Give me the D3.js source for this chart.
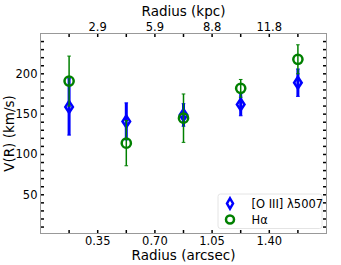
<!DOCTYPE html>
<html><head><meta charset="utf-8">
<script src="https://cdn.jsdelivr.net/npm/d3@7"></script>
<style>body{margin:0;background:#fff;} text{font-family:"DejaVu Sans",sans-serif;}</style>
</head><body><svg id="c" width="341" height="265"></svg>
<script>
const radiusArcsec = [0.175, 0.525, 0.875, 1.225, 1.575];
const oiiiV = [159, 141, 149, 162, 189];
const oiiiErr = [35, 23, 14, 14, 17];
const haV = [191, 114, 145, 182, 218];
const haErr = [31, 28, 30, 11, 18];
const bottomTicks = [0.175, 0.35, 0.525, 0.70, 0.875, 1.05, 1.225, 1.40, 1.575];
const bottomLabels = {"0.35":"0.35","0.7":"0.70","1.05":"1.05","1.4":"1.40"};
const topLabels = {"0.35":"2.9","0.7":"5.9","1.05":"8.8","1.4":"11.8"};
const yMajor = [50, 100, 150, 200];
const yMinor = d3.range(10, 250, 10);

const svg = d3.select("#c");
const L = 40.5, R = 326.5, T = 33.5, B = 233.5;
const x = d3.scaleLinear().domain([0, 1.75]).range([L, R]);
const y = d3.scaleLinear().domain([2, 250]).range([B, T]);
const fmtKey = v => String(+v.toFixed(3));

// ticks
const tickLen = 3.5;
const tk = svg.append("g").attr("stroke", "#000").attr("stroke-width", 1.5);
bottomTicks.forEach(v => {
  tk.append("line").attr("x1", x(v)).attr("x2", x(v)).attr("y1", B).attr("y2", B - tickLen);
  tk.append("line").attr("x1", x(v)).attr("x2", x(v)).attr("y1", T).attr("y2", T + tickLen);
});
yMinor.forEach(v => {
  tk.append("line").attr("x1", L).attr("x2", L + tickLen).attr("y1", y(v)).attr("y2", y(v));
  tk.append("line").attr("x1", R).attr("x2", R - tickLen).attr("y1", y(v)).attr("y2", y(v));
});

// frame
svg.append("rect").attr("x", L).attr("y", T).attr("width", R - L).attr("height", B - T)
  .attr("fill", "none").attr("stroke", "#999").attr("stroke-width", 1);

// tick labels
const fs = 11.5;
bottomTicks.forEach(v => {
  const k = fmtKey(v);
  if (bottomLabels[k]) svg.append("text").attr("x", x(v)).attr("y", 244.5).attr("text-anchor", "middle")
    .attr("font-size", fs).attr("fill", "#000").text(bottomLabels[k]);
  if (topLabels[k]) svg.append("text").attr("x", x(v)).attr("y", 31).attr("text-anchor", "middle")
    .attr("font-size", fs).attr("fill", "#000").text(topLabels[k]);
});
yMajor.forEach(v => {
  svg.append("text").attr("x", 37.5).attr("y", y(v) + 4).attr("text-anchor", "end")
    .attr("font-size", fs).attr("fill", "#000").text(v);
});

// axis labels
svg.append("text").attr("x", (L + R) / 2).attr("y", 260).attr("text-anchor", "middle")
  .attr("font-size", 13.5).text("Radius (arcsec)");
svg.append("text").attr("x", (L + R) / 2).attr("y", 15.5).attr("text-anchor", "middle")
  .attr("font-size", 13.5).text("Radius (kpc)");
svg.append("text").attr("transform", `translate(13.5,${(T + B) / 2}) rotate(-90)`).attr("text-anchor", "middle")
  .attr("font-size", 13.5).text("V(R) (km/s)");

// series
function diamondPath(cx, cy, w, h) {
  return `M${cx},${cy - h}L${cx + w},${cy}L${cx},${cy + h}L${cx - w},${cy}Z`;
}
function errbars(vals, errs, color, lw, capw) {
  const g = svg.append("g").attr("stroke", color);
  vals.forEach((v, i) => {
    const cx = x(radiusArcsec[i]);
    g.append("line").attr("x1", cx).attr("x2", cx).attr("y1", y(v - errs[i])).attr("y2", y(v + errs[i])).attr("stroke-width", lw);
    [v - errs[i], v + errs[i]].forEach(e => g.append("line").attr("x1", cx - capw).attr("x2", cx + capw)
      .attr("y1", y(e)).attr("y2", y(e)).attr("stroke-width", 1));
  });
}
errbars(oiiiV, oiiiErr, "#0000ff", 3, 1.8);
oiiiV.forEach((v, i) => {
  svg.append("path").attr("d", diamondPath(x(radiusArcsec[i]), y(v), 3.8, 5.8))
    .attr("fill", "none").attr("stroke", "#0000ff").attr("stroke-width", 2.5);
});
errbars(haV, haErr, "#008000", 1.5, 1.8);
haV.forEach((v, i) => {
  svg.append("circle").attr("cx", x(radiusArcsec[i])).attr("cy", y(v)).attr("r", 4.6)
    .attr("fill", "none").attr("stroke", "#008000").attr("stroke-width", 2.5);
});

// legend
const lg = svg.append("g");
lg.append("rect").attr("x", 218).attr("y", 194).attr("width", 104).attr("height", 34.5).attr("rx", 2.5)
  .attr("fill", "#fff").attr("fill-opacity", 0.85).attr("stroke", "#ddd").attr("stroke-width", 0.8);
lg.append("path").attr("d", diamondPath(230, 203.5, 3, 5.2)).attr("fill", "#fff")
  .attr("stroke", "#0000ff").attr("stroke-width", 2.5);
lg.append("circle").attr("cx", 230).attr("cy", 219.5).attr("r", 4).attr("fill", "none")
  .attr("stroke", "#008000").attr("stroke-width", 2.5);
lg.append("text").attr("x", 251.5).attr("y", 207.5).attr("font-size", fs).text("[O III] λ5007");
lg.append("text").attr("x", 251.5).attr("y", 223.5).attr("font-size", fs).text("Hα");
</script></body></html>
